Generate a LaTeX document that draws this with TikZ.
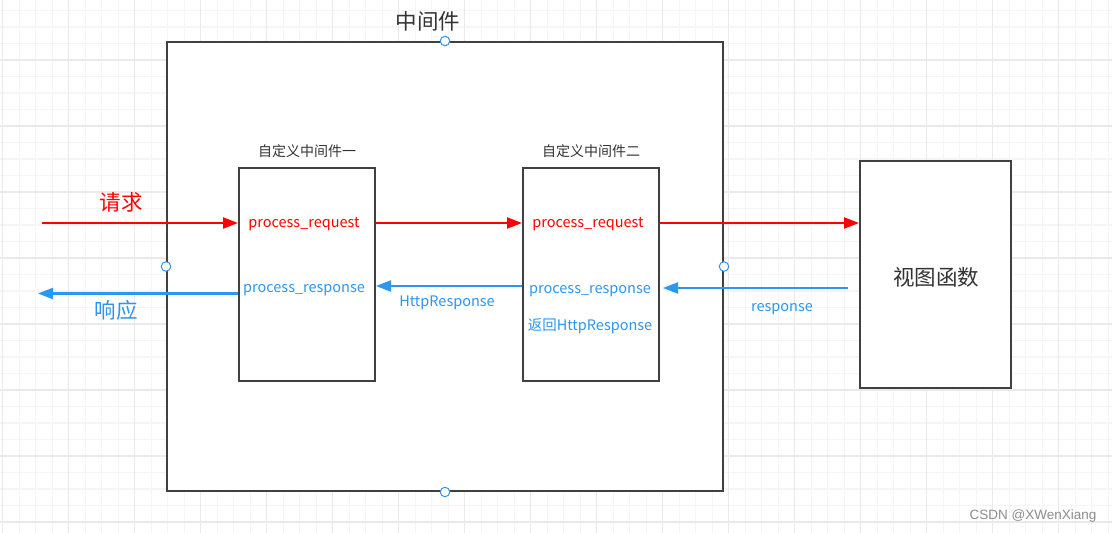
\documentclass[tikz,border=0pt]{standalone}
\usepackage{fontspec}
\setmainfont{Noto Sans CJK SC}
\newfontfamily\wmfont{Liberation Sans}
\usetikzlibrary{arrows.meta}
\definecolor{gridminor}{RGB}{245,245,245}
\definecolor{gridmajor}{RGB}{234,234,234}
\definecolor{boxline}{RGB}{64,64,64}
\definecolor{txtdark}{RGB}{51,51,51}
\definecolor{reqred}{RGB}{255,0,0}
\definecolor{respblue}{RGB}{45,150,240}
\definecolor{wmgray}{RGB}{140,140,140}
\tikzset{
  boxstyle/.style={draw=boxline, line width=2pt, fill=white, inner sep=0pt},
  reqarrow/.style={draw=reqred, line width=2.2pt, -{Triangle[length=15pt,width=11pt]}},
  resparrow/.style={draw=respblue, line width=2.2pt, -{Triangle[length=15pt,width=11pt]}},
  portdot/.style={circle, draw=respblue, fill=white, line width=1pt, minimum size=9.5pt, inner sep=0pt},
  bigtxt/.style={font=\fontsize{21.5}{25}\selectfont, inner sep=0pt},
  midtxt/.style={font=\fontsize{14.5}{17}\selectfont, inner sep=0pt},
  smalltxt/.style={font=\fontsize{14}{16}\selectfont, text=txtdark, inner sep=0pt},
}
\begin{document}
\begin{tikzpicture}[x=1pt, y=-1pt]
\useasboundingbox (0,0) rectangle (1112,533);
\fill[white] (0,0) rectangle (1112,533);
% grid
\foreach \k in {0,...,67} {
  \draw[gridminor, line width=1.2pt] ({2.7+16.5*\k},0) -- ({2.7+16.5*\k},533);
}
\foreach \k in {0,...,32} {
  \draw[gridminor, line width=1.2pt] (0,{10.5+16.5*\k}) -- (1112,{10.5+16.5*\k});
}
\foreach \k in {0,...,16} {
  \draw[gridmajor, line width=1.2pt] ({2.7+66*\k},0) -- ({2.7+66*\k},533);
}
\foreach \k in {0,...,8} {
  \draw[gridmajor, line width=1.2pt] (0,{-6+66*\k}) -- (1112,{-6+66*\k});
}
% boxes
\node[boxstyle, minimum width=556pt, minimum height=449pt] (outer) at (445,266.5) {};
\node[boxstyle, minimum width=136pt, minimum height=213pt] (m1) at (307,274.5) {};
\node[boxstyle, minimum width=136pt, minimum height=213pt] (m2) at (591,274.5) {};
\node[boxstyle, minimum width=151pt, minimum height=227pt] (view) at (935.5,274.5) {};
% labels
\node[bigtxt, text=txtdark] (outerlabel) at (428,21) {中间件};
\node[smalltxt] (m1label) at (307,151) {自定义中间件一};
\node[smalltxt] (m2label) at (591,151) {自定义中间件二};
\node[bigtxt, text=txtdark] (viewlabel) at (936,277) {视图函数};
\node[midtxt, text=reqred] (m1req) at (304,224.5) {process\_request};
\node[midtxt, text=respblue] (m1resp) at (304,290) {process\_response};
\node[midtxt, text=reqred] (m2req) at (588,224.5) {process\_request};
\node[midtxt, text=respblue] (m2resp) at (590,291) {process\_response};
\node[midtxt, text=respblue] (m2ret) at (590,326) {返回HttpResponse};
\node[midtxt, text=respblue] (httpresp) at (447,302.5) {HttpResponse};
\node[midtxt, text=respblue] (viewresp) at (782,309.5) {response};
\node[bigtxt, text=reqred] (reqlabel) at (121,202) {请求};
\node[bigtxt, text=respblue] (resplabel) at (116,310) {响应};
% arrows
\coordinate (reqin) at (42,223);
\coordinate (respout) at (38,293.5);
\coordinate (m1respy) at (0,293.5);
\coordinate (midrespy) at (0,286);
\coordinate (viewrespstart) at (848,288);
\draw[reqarrow] (reqin) -- (reqin -| m1.west);
\draw[reqarrow] (m1.east |- reqin) -- (m2.west |- reqin);
\draw[reqarrow] (m2.east |- reqin) -- (view.west |- reqin);
\draw[resparrow] (m1.west |- m1respy) -- (respout);
\draw[resparrow] (m2.west |- midrespy) -- (m1.east |- midrespy);
\draw[resparrow, shorten >=3pt] (viewrespstart) -- (m2.east |- viewrespstart);
% ports
\node[portdot] (pn) at (outer.north) {};
\node[portdot] (ps) at (outer.south) {};
\node[portdot] (pw) at (outer.west) {};
\node[portdot] (pe) at (outer.east) {};
% watermark
\node[font=\wmfont\fontsize{13.5}{15}\selectfont, text=wmgray, inner sep=0pt] (wm) at (1033,516) {CSDN @XWenXiang};
\end{tikzpicture}
\end{document}
